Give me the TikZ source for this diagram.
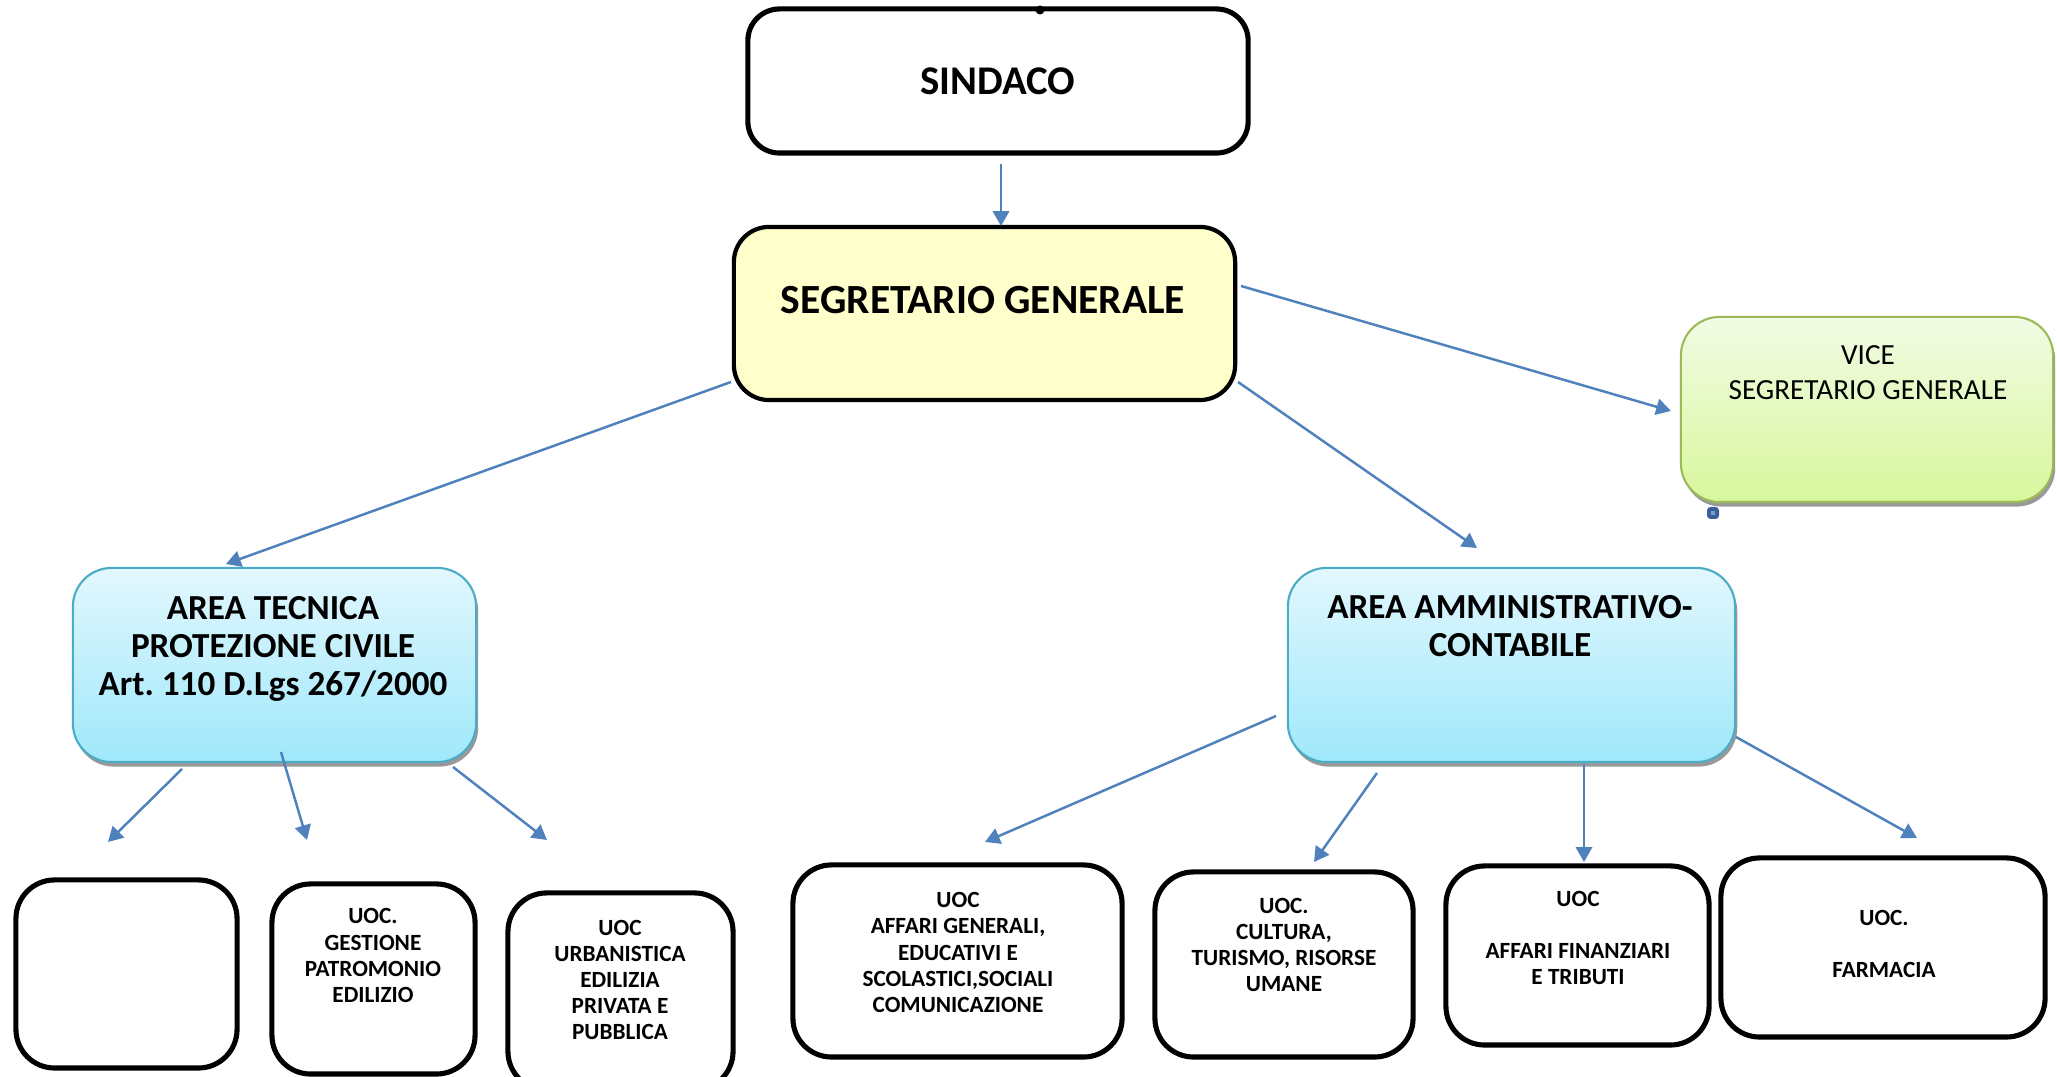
\documentclass[tikz,border=0pt]{standalone}
\usepackage{fontspec}
\setmainfont{Carlito}
\usetikzlibrary{arrows.meta,shadows}
\definecolor{arrblue}{HTML}{4F81BD}
\definecolor{segfill}{HTML}{FFFFCC}
\definecolor{areatop}{HTML}{E2F7FD}
\definecolor{areabot}{HTML}{9FE8FB}
\definecolor{areadraw}{HTML}{4BACC6}
\definecolor{vicetop}{HTML}{F2FBE4}
\definecolor{vicebot}{HTML}{D8F79C}
\definecolor{vicedraw}{HTML}{9BBB59}
\definecolor{sqblue}{HTML}{3A5F9A}
\definecolor{sqlight}{HTML}{7C9CCB}
\newcommand\fBig{\fontsize{11.6}{14}\selectfont\bfseries}
\newcommand\fSeg{\fontsize{11.8}{14}\selectfont\bfseries}
\newcommand\fArea{\fontsize{10}{10.8}\selectfont\bfseries}
\newcommand\fVice{\fontsize{8.3}{10}\selectfont}
\newcommand\fUoc{\fontsize{6.6}{7.4}\selectfont\bfseries}
\frenchspacing
\begin{document}
\begin{tikzpicture}[x=0.01cm,y=-0.01cm,
  box/.style={draw=black,line width=1.45pt,rounded corners=11pt,fill=white,inner sep=0pt},
  segbox/.style={draw=black,line width=1.2pt,rounded corners=10pt,fill=segfill,inner sep=0pt},
  areabox/.style={draw=areadraw,line width=0.6pt,rounded corners=11pt,top color=areatop,bottom color=areabot,inner sep=0pt,
     drop shadow={shadow xshift=0.6pt,shadow yshift=-1.3pt,fill=black!40,opacity=1}},
  vicebox/.style={draw=vicedraw,line width=0.6pt,rounded corners=11pt,top color=vicetop,bottom color=vicebot,inner sep=0pt,
     drop shadow={shadow xshift=0.6pt,shadow yshift=-1.3pt,fill=black!40,opacity=1}},
  txt/.style={align=center,inner sep=0pt},
  uoc/.style={txt,font=\fUoc},
  arr/.style={draw=arrblue,line width=0.7pt,-{Triangle[width=4.6pt,length=4.2pt]},color=arrblue}
]
\clip (0,0) rectangle (2057,1077);
\fill[white] (0,0) rectangle (2057,1077);

% top level
\node[box,rounded corners=9pt,minimum width=5cm,minimum height=1.44cm,font=\fBig] (sindaco) at (998,81) {SINDACO};
\fill (1040,10) circle[radius=0.045cm];

\node[segbox,minimum width=5.01cm,minimum height=1.73cm] (seg) at (984.5,313.5) {};
\node[txt,font=\fSeg] (tseg) at (983,300) {SEGRETARIO GENERALE};

\node[vicebox,minimum width=3.72cm,minimum height=1.85cm] (vice) at (1867,409.5) {};
\node[txt,font=\fVice] (tvice) at (1868,372.5) {VICE\\SEGRETARIO GENERALE};
\fill[sqblue,rounded corners=1pt] (1707,507) rectangle (1719,519);
\fill[sqlight] (1711,511) rectangle (1715,515);

% areas
\node[areabox,minimum width=4.03cm,minimum height=1.94cm] (at) at (274.5,665) {};
\node[txt,font=\fArea] (tat) at (273,649) {AREA TECNICA\\PROTEZIONE CIVILE\\Art. 110 D.Lgs 267/2000};

\node[areabox,minimum width=4.47cm,minimum height=1.94cm] (aa) at (1511.5,665) {};
\node[txt,font=\fArea] (taa) at (1510,626.5) {AREA AMMINISTRATIVO-\\CONTABILE};

% bottom boxes
\node[box,minimum width=2.21cm,minimum height=1.88cm] (b1) at (126.5,974) {};
\node[box,minimum width=2.03cm,minimum height=1.90cm] (b2) at (373.5,979) {};
\node[uoc] (tb2) at (373,955.5) {UOC.\\GESTIONE\\PATROMONIO\\EDILIZIO};
\node[box,minimum width=2.25cm,minimum height=1.97cm] (b3) at (620.5,991.5) {};
\node[uoc] (tb3) at (620,980) {UOC\\URBANISTICA\\EDILIZIA\\PRIVATA E\\PUBBLICA};
\node[box,minimum width=3.29cm,minimum height=1.92cm] (b4) at (957.5,961) {};
\node[uoc] (tb4) at (958,952.5) {UOC\\AFFARI GENERALI,\\EDUCATIVI E\\SCOLASTICI,SOCIALI\\COMUNICAZIONE};
\node[box,minimum width=2.58cm,minimum height=1.85cm] (b5) at (1284,964.5) {};
\node[uoc] (tb5) at (1284,945) {UOC.\\CULTURA,\\TURISMO, RISORSE\\UMANE};
\node[box,minimum width=2.63cm,minimum height=1.79cm] (b6) at (1577.5,955.5) {};
\node[uoc] (tb6) at (1578,938) {UOC\\[7.4pt]AFFARI FINANZIARI\\E TRIBUTI};
\node[box,minimum width=3.24cm,minimum height=1.79cm] (b7) at (1883,947.5) {};
\node[uoc] (tb7) at (1884,944) {UOC.\\[7.4pt]FARMACIA};

% connector end points
\coordinate (s1) at (1001,164);  \coordinate (e1) at (1001,226);
\coordinate (s2) at (1241,286);  \coordinate (e2) at (1671,411);
\coordinate (s3) at (731,382);   \coordinate (e3) at (226,564);
\coordinate (s4) at (1238,382);  \coordinate (e4) at (1477,548);
\coordinate (s5) at (182,769);   \coordinate (e5) at (108,842);
\coordinate (s6) at (281,752);   \coordinate (e6) at (307,840);
\coordinate (s7) at (453,767);   \coordinate (e7) at (547,840);
\coordinate (s8) at (1276,716);  \coordinate (e8) at (985,842);
\coordinate (s9) at (1377,773);  \coordinate (e9) at (1314,862);
\coordinate (s10) at (1584,764); \coordinate (e10) at (1584,862);
\coordinate (s11) at (1736,737); \coordinate (e11) at (1917,838);

\draw[arr] (s1) -- (e1);
\draw[arr] (s2) -- (e2);
\draw[arr] (s3) -- (e3);
\draw[arr] (s4) -- (e4);
\draw[arr] (s5) -- (e5);
\draw[arr] (s6) -- (e6);
\draw[arr] (s7) -- (e7);
\draw[arr] (s8) -- (e8);
\draw[arr] (s9) -- (e9);
\draw[arr] (s10) -- (e10);
\draw[arr] (s11) -- (e11);
\end{tikzpicture}
\end{document}
